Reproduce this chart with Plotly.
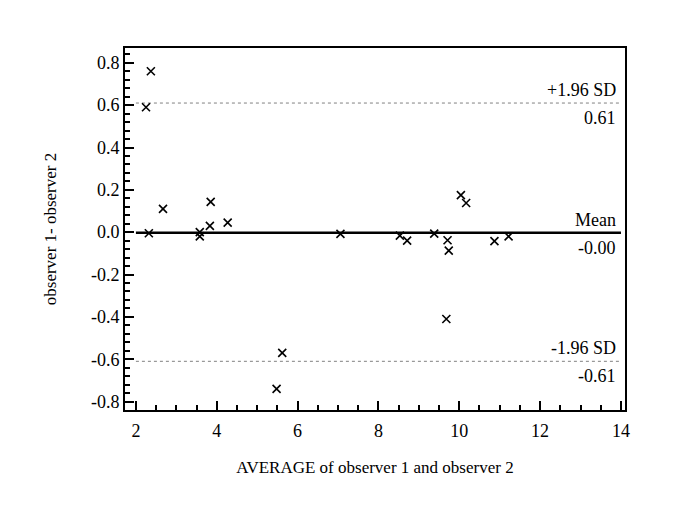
import plotly.graph_objects as go

# Bland-Altman data
avg_values = [2.37, 2.25, 2.32, 2.67, 3.58, 3.58, 3.83, 3.85, 4.27, 5.48, 5.62,
              7.06, 8.53, 8.71, 9.38, 9.71, 9.74, 9.68, 10.04, 10.17, 10.87, 11.22]
diff_values = [0.76, 0.59, -0.005, 0.11, 0.0, -0.02, 0.03, 0.143, 0.045, -0.74, -0.57,
               -0.008, -0.016, -0.04, -0.007, -0.038, -0.087, -0.41, 0.175, 0.138, -0.042, -0.02]

mean_diff = -0.003
upper_loa = 0.61
lower_loa = -0.61
line_x = [2, 14]

x_ticks = [2, 4, 6, 8, 10, 12, 14]
y_ticks = [-0.8, -0.6, -0.4, -0.2, 0.0, 0.2, 0.4, 0.6, 0.8]
y_tick_text = ["-0.8", "-0.6", "-0.4", "-0.2", "0.0", "0.2", "0.4", "0.6", "0.8"]

font_family = "Liberation Serif"

fig = go.Figure()

# limits of agreement (dotted) and mean line
for yv in (upper_loa, lower_loa):
    fig.add_trace(go.Scatter(x=line_x, y=[yv, yv], mode="lines",
                             line=dict(color="#808080", width=1, dash="dot"),
                             hoverinfo="skip", showlegend=False))
fig.add_trace(go.Scatter(x=line_x, y=[mean_diff, mean_diff], mode="lines",
                         line=dict(color="black", width=2.5),
                         hoverinfo="skip", showlegend=False))

fig.add_trace(go.Scatter(x=avg_values, y=diff_values, mode="markers",
                         marker=dict(symbol="x-thin", size=8, color="black",
                                     line=dict(color="black", width=1.6)),
                         showlegend=False))

# labels at the right end of each line
labels = [(upper_loa, "+1.96 SD", "0.61"),
          (mean_diff, "Mean", "-0.00"),
          (lower_loa, "-1.96 SD", "-0.61")]
for yv, above, below in labels:
    fig.add_annotation(x=13.93, y=yv, text=above, showarrow=False,
                       xanchor="right", yanchor="bottom", yshift=1,
                       font=dict(family=font_family, size=18, color="black"))
    fig.add_annotation(x=13.93, y=yv, text=below, showarrow=False,
                       xanchor="right", yanchor="top", yshift=-3,
                       font=dict(family=font_family, size=18, color="black"))

axis_common = dict(showgrid=False, zeroline=False, showline=True, linecolor="black",
                   linewidth=2, mirror=True, ticks="inside", tickcolor="black",
                   tickwidth=1.5, ticklen=9,
                   tickfont=dict(family=font_family, size=18, color="black"))

fig.update_xaxes(range=[1.73, 14.1], tickvals=x_ticks,
                 minor=dict(dtick=0.5, tick0=2, ticks="inside", ticklen=5,
                            tickcolor="black", tickwidth=1.5),
                 ticklabelstandoff=3,
                 title=dict(text="AVERAGE of observer 1 and observer 2",
                            font=dict(family=font_family, size=17, color="black"),
                            standoff=22),
                 **axis_common)
fig.update_yaxes(range=[-0.84, 0.87], tickvals=y_ticks, ticktext=y_tick_text,
                 minor=dict(dtick=0.04, tick0=0, ticks="inside", ticklen=5,
                            tickcolor="black", tickwidth=1.5),
                 title=dict(text="observer 1- observer 2",
                            font=dict(family=font_family, size=17, color="black"),
                            standoff=30),
                 **axis_common)

fig.update_layout(width=685, height=513,
                  margin=dict(l=117, r=68, t=40, b=111),
                  paper_bgcolor="white", plot_bgcolor="white",
                  font=dict(family=font_family, color="black"))

fig.write_html("out.html")
